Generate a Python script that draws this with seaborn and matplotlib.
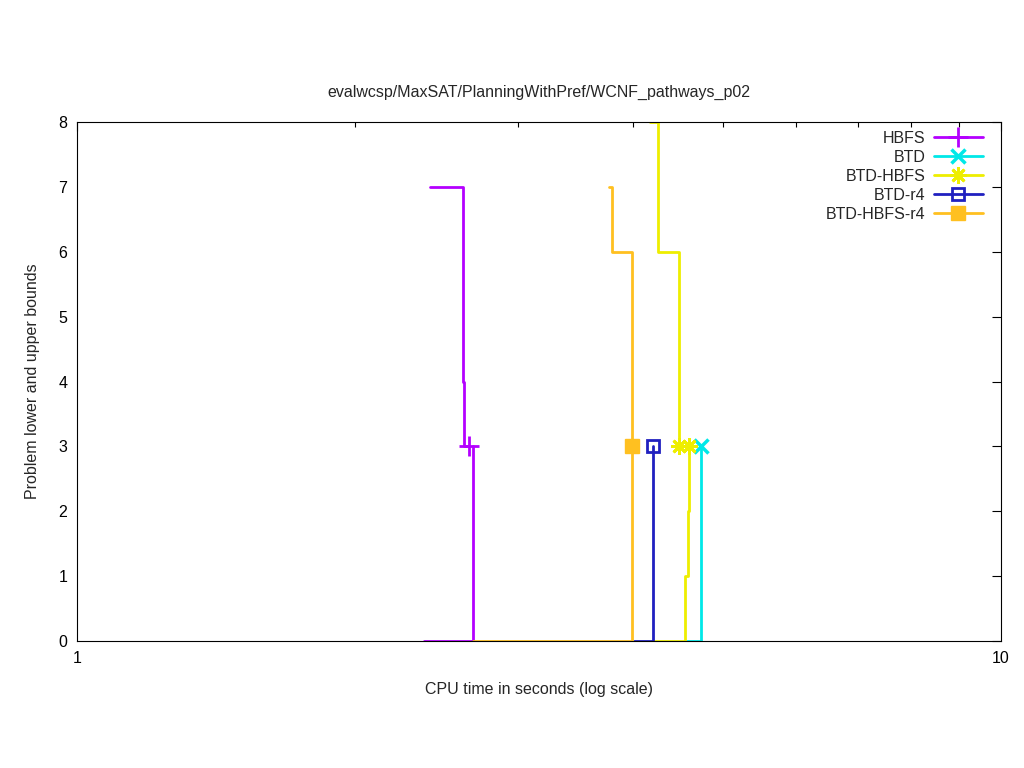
import numpy as np
import pandas as pd
import seaborn as sns
import matplotlib.pyplot as plt
from matplotlib.lines import Line2D
from matplotlib.ticker import NullFormatter, FixedLocator, LogLocator

# series labels / colours / markers
names = ['HBFS', 'BTD', 'BTD-HBFS', 'BTD-r4', 'BTD-HBFS-r4']
colors = ['#b400ff', '#00e8e8', '#eeee00', '#2020c0', '#ffc020']

# upper bounds (time, value) - step curves
hbfs_ub_t = [2.41, 2.617, 2.624, 2.657]
hbfs_ub_v = [7, 4, 3, 3]
btd_ub_t = [4.735]
btd_ub_v = [3]
btdhbfs_ub_t = [4.17, 4.25, 4.483]
btdhbfs_ub_v = [8, 6, 3]
btdr4_ub_t = [4.202]
btdr4_ub_v = [3]
btdhbfsr4_ub_t = [3.765, 3.794, 3.987]
btdhbfsr4_ub_v = [7, 6, 3]

# lower bounds
hbfs_lb_t = [2.375, 2.683]
hbfs_lb_v = [0, 3]
btd_lb_t = [4.57, 4.735]
btd_lb_v = [0, 3]
btdhbfs_lb_t = [4.202, 4.55, 4.58, 4.60]
btdhbfs_lb_v = [0, 1, 2, 3]
btdr4_lb_t = [4.007, 4.202]
btdr4_lb_v = [0, 3]
btdhbfsr4_lb_t = [2.683, 3.987]
btdhbfsr4_lb_v = [0, 3]

# points where the bounds meet (markers)
hbfs_pt_t, hbfs_pt_v = [2.657], [3]
btd_pt_t, btd_pt_v = [4.735], [3]
btdhbfs_pt_t, btdhbfs_pt_v = [4.483, 4.60], [3, 3]
btdr4_pt_t, btdr4_pt_v = [4.202], [3]
btdhbfsr4_pt_t, btdhbfsr4_pt_v = [3.987], [3]

series = [
    (hbfs_ub_t, hbfs_ub_v, hbfs_lb_t, hbfs_lb_v, hbfs_pt_t, hbfs_pt_v),
    (btd_ub_t, btd_ub_v, btd_lb_t, btd_lb_v, btd_pt_t, btd_pt_v),
    (btdhbfs_ub_t, btdhbfs_ub_v, btdhbfs_lb_t, btdhbfs_lb_v, btdhbfs_pt_t, btdhbfs_pt_v),
    (btdr4_ub_t, btdr4_ub_v, btdr4_lb_t, btdr4_lb_v, btdr4_pt_t, btdr4_pt_v),
    (btdhbfsr4_ub_t, btdhbfsr4_ub_v, btdhbfsr4_lb_t, btdhbfsr4_lb_v, btdhbfsr4_pt_t, btdhbfsr4_pt_v),
]

marker_style = [
    dict(marker='+', ms=15, mew=2),
    dict(marker='x', ms=10, mew=2.5),
    dict(marker=(8, 2, 0), ms=12, mew=2),
    dict(marker='s', ms=9, mew=2, mfc='none'),
    dict(marker='s', ms=10, mew=1),
]

sns.set_style('white')
plt.rcParams['font.family'] = ['Liberation Sans', 'DejaVu Sans']
fs = 11.5

fig = plt.figure(figsize=(10.24, 7.68), dpi=100)
ax = fig.add_axes([77 / 1024, 127 / 768, 924 / 1024, 519 / 768])

handles = []
for name, col, (ut, uv, lt, lv, pt, pv), ms in zip(names, colors, series, marker_style):
    if len(ut) > 1:
        sns.lineplot(x=ut, y=uv, ax=ax, color=col, lw=2, drawstyle='steps-post',
                     estimator=None, sort=False)
    if len(lt) > 1:
        sns.lineplot(x=lt, y=lv, ax=ax, color=col, lw=2, drawstyle='steps-post',
                     estimator=None, sort=False)
    mfc = ms.pop('mfc', col)
    ax.plot(pt, pv, ls='none', color=col, mfc=mfc, mec=col, **ms)
    handles.append(Line2D([], [], color=col, lw=2, mfc=mfc, mec=col, **ms))

ax.set_xscale('log')
ax.set_xlim(1, 10)
ax.set_ylim(0, 8)
ax.xaxis.set_major_locator(FixedLocator([1, 10]))
ax.set_xticklabels(['1', '10'])
ax.xaxis.set_minor_locator(LogLocator(base=10, subs=np.arange(2, 10)))
ax.xaxis.set_minor_formatter(NullFormatter())
ax.set_yticks(range(0, 9))

for s in ax.spines.values():
    s.set_color('black')
    s.set_linewidth(0.8)
ax.tick_params(which='both', direction='in', top=True, right=True, colors='black',
               labelsize=fs)
ax.tick_params(which='major', length=6.5, width=0.8, pad=7)
ax.tick_params(which='minor', length=3.3, width=0.8)

ax.set_title('evalwcsp/MaxSAT/PlanningWithPref/WCNF_pathways_p02', fontsize=fs, pad=18)
ax.set_xlabel('CPU time in seconds (log scale)', fontsize=fs, labelpad=12)
ax.set_ylabel('Problem lower and upper bounds', fontsize=fs, labelpad=13)

ax.legend(handles, names, loc='upper right', frameon=False, markerfirst=False,
          fontsize=fs, handlelength=3.05, labelspacing=0.25, borderaxespad=0.4,
          handletextpad=0.55, bbox_to_anchor=(0.994, 1.008))

fig.savefig('out.png', dpi=100)
